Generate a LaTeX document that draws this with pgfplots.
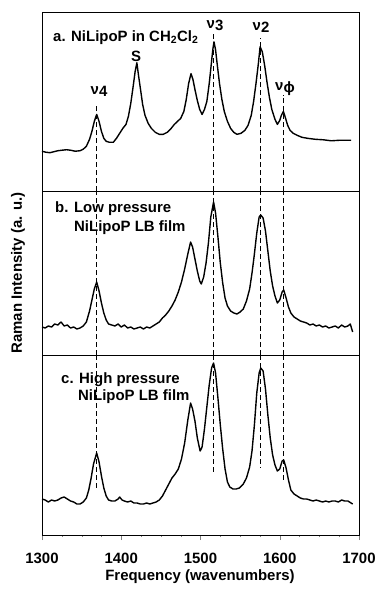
\documentclass[border=0pt]{standalone}
\usepackage{pgfplots}
\pgfplotsset{compat=1.18}
\usepackage{fontspec}
\setmainfont{Liberation Sans}
\pgfplotstableread{
f y
1300 40
1305 39
1310 38.5
1315 39.5
1320 40.5
1325 41
1331 41.5
1336 41
1342 40
1348 40.5
1352 42
1356 45
1360 52
1363 60
1366 70
1369 77
1372 70
1375 60
1378 53
1381 50
1385 49
1390 49
1394 53
1398 58
1402 63
1406 67
1409 75
1412 88
1415 105
1417.5 120
1419.7 129
1422 115
1424 104
1427 87
1430 76
1434 68
1438 63
1443 59
1448 57
1453 57
1458 59
1463 63
1467 67
1471 70
1475 73
1479 80
1482 92
1485 108
1488 118
1490.5 112
1493 102
1496 91
1499 82
1502 77
1505 82
1508 90
1511 108
1513 123
1515.5 142
1517 150
1519 142
1521 128
1524 108
1527 92
1530 80
1534 70
1538 63
1542 59
1546 57
1551 58
1556 61
1560 66
1564 76
1567 90
1570 108
1573 128
1575.2 145
1578 140
1581 126
1584 109
1587 94
1590 82
1594 72
1597 67
1600 71
1602 76
1604.6 80
1607 74
1610 66
1613 61
1617 58
1622 56
1628 54
1635 53
1645 52
1655 51.5
1665 50.5
1675 51
1685 51
1690 51
}\dataA
\pgfplotstableread{
f y
1300 28
1304 27
1308 29
1312 28
1316 31
1320 30
1324 33
1328 29
1332 30
1336 27
1340 28
1344 26
1348 27
1352 29
1356 33
1360 44
1363 55
1366 66
1369 73
1372 64
1375 52
1378 42
1381 35
1384 31
1388 30
1392 29
1396 31
1400 28
1404 30
1408 27
1412 28
1416 26
1420 27
1424 28
1428 26
1432 28
1436 27
1440 29
1444 31
1448 33
1452 37
1456 40
1460 44
1464 49
1468 55
1472 63
1476 73
1480 86
1484 101
1487.5 113
1490 108
1493 96
1496 84
1499 74
1501 71
1504 78
1507 92
1510 112
1513 138
1516.5 153
1519 142
1522 118
1525 92
1528 72
1531 57
1534 49
1538 44
1542 42
1546 41
1550 43
1554 46
1558 54
1562 66
1565 82
1568 101
1571 122
1574 138
1576 140
1579 137
1582 124
1585 104
1588 84
1591 69
1594 59
1597 52
1600 55
1603 63
1605 65
1608 57
1611 48
1614 42
1618 38
1622 36
1626 34
1630 33
1634 32
1638 30
1642 31
1646 29
1650 30
1654 28
1658 29
1662 27
1666 28
1670 29
1674 27
1678 30
1682 28
1686 29
1689 31
1692 23
}\dataB
\pgfplotstableread{
f y
1300 36
1304 35
1308 33
1312 35
1316 34
1320 35
1324 37
1328 38
1332 36
1336 34
1340 33
1344 31
1348 31
1352 33
1356 37
1359 45
1362 57
1365 71
1369 82
1372 73
1375 59
1378 47
1381 39
1384 35
1388 34
1392 34
1396 36
1398 38
1401 35
1404 34
1408 33
1412 34
1416 32
1420 32
1424 31
1428 31
1432 32
1436 31
1440 32
1444 33
1448 35
1452 39
1456 45
1460 51
1464 57
1468 61
1472 66
1476 76
1480 92
1484 115
1487.5 132
1490 126
1493 114
1496 97
1499.5 84
1502 88
1505 106
1508 128
1511 150
1514 167
1516.5 172
1519 162
1522 137
1525 110
1528 86
1531 66
1534 53
1537 48
1541 46
1545 46
1549 47
1554 51
1558 57
1562 68
1565 84
1568 110
1571 142
1574 162
1576 167
1579 164
1582 146
1585 120
1588 97
1591 80
1594 70
1597 64
1600 66
1603 74
1605 75
1608 67
1611 55
1614 45
1618 41
1622 39
1626 37
1630 36
1634 36
1638 35
1642 34
1646 35
1650 34
1654 33
1658 34
1662 33
1666 34
1670 34
1674 33
1678 35
1682 34
1686 34
1690 32
1692 31
}\dataC
\newcommand{\lab}{\fontsize{15}{17}\selectfont\bfseries}
\newcommand{\nusub}[1]{ν\raisebox{-2.5bp}{#1}}
\begin{document}
\begin{tikzpicture}
\useasboundingbox (0bp,0bp) rectangle (380bp,-592bp);
\pgfplotsset{panel/.style={scale only axis, width=317bp, xmin=1300, xmax=1700, ymin=0,
  anchor=south west, ytick=\empty, xtick=\empty, axis line style={line width=0.8pt},
  clip=false},
  spec/.style={black, line width=1.4pt, line join=round, no marks},
  vline/.style={black, line width=0.8pt, dash pattern=on 5bp off 3bp, forget plot}}
% panel a
\begin{axis}[panel, at={(42bp,-191bp)}, height=179bp, ymax=180]
\addplot[spec] table[x=f,y=y] {\dataA};
\addplot[vline] coordinates {(1369,0) (1369,87)};
\addplot[vline] coordinates {(1516,0) (1516,159)};
\addplot[vline] coordinates {(1575,0) (1575,154)};
\addplot[vline] coordinates {(1604.5,0) (1604.5,97)};
\end{axis}
% panel b
\begin{axis}[panel, at={(42bp,-355bp)}, height=164bp, ymax=164]
\addplot[spec] table[x=f,y=y] {\dataB};
\addplot[vline] coordinates {(1369,0) (1369,164)};
\addplot[vline] coordinates {(1516,0) (1516,164)};
\addplot[vline] coordinates {(1575,0) (1575,164)};
\addplot[vline] coordinates {(1604.5,0) (1604.5,164)};
\end{axis}
% panel c
\begin{axis}[panel, at={(42bp,-535bp)}, height=180bp, ymax=180,
  xtick={1300,1400,1500,1600,1700}, minor x tick num=3,
  tick align=outside, xtick pos=bottom, major tick length=5bp, minor tick length=2bp,
  /pgf/number format/assume math mode=true, /pgf/number format/1000 sep={},
  xticklabel style={font=\lab, yshift=-10bp}]
\addplot[spec] table[x=f,y=y] {\dataC};
\addplot[vline] coordinates {(1369,180) (1369,44)};
\addplot[vline] coordinates {(1516,180) (1516,62)};
\addplot[vline] coordinates {(1575,180) (1575,67)};
\addplot[vline] coordinates {(1604.5,180) (1604.5,52)};
\end{axis}
% texts
\node[anchor=base west, inner sep=0] at (53bp,-41bp) {\lab a. NiLipoP in CH\textsubscript{2}Cl\textsubscript{2}};
\node[anchor=base west, inner sep=0] at (55bp,-212bp) {\lab b. Low pressure};
\node[anchor=base west, inner sep=0] at (74bp,-231bp) {\lab NiLipoP LB film};
\node[anchor=base west, inner sep=0] at (61bp,-383bp) {\lab c. High pressure};
\node[anchor=base west, inner sep=0] at (78bp,-400bp) {\lab NiLipoP LB film};
\node[anchor=base, inner sep=0] at (99bp,-94bp) {\lab \nusub{4}};
\node[anchor=base, inner sep=0] at (136bp,-61bp) {\lab S};
\node[anchor=base, inner sep=0] at (215bp,-28bp) {\lab \nusub{3}};
\node[anchor=base, inner sep=0] at (261bp,-30bp) {\lab \nusub{2}};
\node[anchor=base, inner sep=0] at (285bp,-90bp) {\lab \nusub{ϕ}};
\node[rotate=90, inner sep=0] at (18bp,-273bp) {\lab Raman Intensity (a. u.)};
\node[inner sep=0] at (200bp,-577bp) {\lab Frequency (wavenumbers)};
\end{tikzpicture}
\end{document}
